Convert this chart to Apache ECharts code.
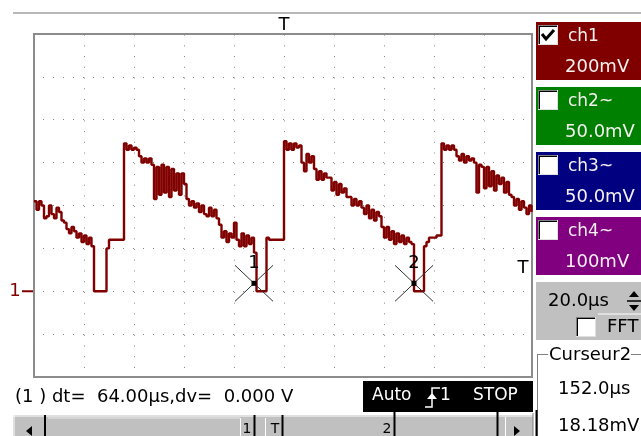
<!DOCTYPE html>
<html><head><meta charset="utf-8">
<script src="https://cdn.jsdelivr.net/npm/echarts@6/dist/echarts.min.js"></script>
<style>html,body{margin:0;padding:0;background:#fff;}#c{width:641px;height:436px;}</style>
</head><body><div id="c"></div>
<script>
// ---- data ----
const SAMPLE_US = 1;               // sample spacing, µs
const ch1Volts = [
  0.42,0.38,0.42,0.40,
  0.34,0.35,0.40,0.36,0.34,0.39,0.37,
  0.33,0.32,0.29,0.27,0.30,0.28,
  0.25,0.27,0.23,0.26,0.22,0.25,0.21,
  0.00,0.00,0.00,0.00,0.00,
  0.20,0.24,0.24,0.24,0.24,0.24,0.24,
  0.69,0.66,0.68,0.66,0.67,
  0.66,0.63,0.60,0.62,0.60,0.62,0.59,
  0.43,0.58,0.45,0.59,0.46,0.58,0.44,0.57,0.47,0.55,0.45,0.55,0.50,
  0.43,0.40,0.42,0.39,0.41,0.37,0.40,0.36,0.35,0.39,0.35,0.38,0.34,
  0.31,0.25,0.28,0.23,0.27,0.25,0.32,
  0.24,0.21,0.27,0.21,0.26,0.22,0.25,
  0.18,
  0.00,0.00,0.00,0.00,
  0.25,0.24,0.24,0.24,0.24,0.24,0.24,
  0.70,0.66,0.69,0.66,0.69,0.67,0.68,
  0.60,0.56,0.64,0.60,0.63,
  0.57,0.52,0.56,0.52,0.55,0.53,
  0.53,0.47,0.51,0.45,0.50,0.46,0.48,0.44,
  0.44,0.40,0.43,0.40,0.42,0.39,
  0.36,0.40,0.34,0.38,0.33,0.37,0.35,
  0.30,0.25,0.30,0.24,0.28,0.22,0.27,0.23,0.26,0.22,0.25,0.23,0.22,
  0.00,0.00,0.00,0.00,
  0.21,0.23,0.25,0.25,0.25,0.26,0.26,
  0.69,0.66,0.68,0.66,0.68,0.66,
  0.63,0.61,0.64,0.60,0.63,0.61,0.62,0.60,
  0.46,0.59,0.58,0.48,0.58,0.49,0.56,0.47,0.54,0.50,0.53,0.46,0.51,0.45,
  0.44,0.40,0.43,0.38,0.42,0.39,0.36,0.40,0.37
];
const cursorTimesUs = [88, 152];
const cursorVolts = [0.037, 0.037];
const cursorLabels = ['1', '2'];
const triggerTimeUs = 100;
const triggerLevelV = 0.108;
const groundV = 0;
const xMinUs = 0, xMaxUs = 199.2, xIntervalUs = 20;
const yMinV = -0.4, yMaxV = 1.2, yIntervalV = 0.2;

const channelNames = ['ch1', 'ch2~', 'ch3~', 'ch4~'];
const channelScales = ['200mV', '50.0mV', '50.0mV', '100mV'];
const channelColors = ['#800000', '#008000', '#000080', '#800080'];
const channelChecked = [true, false, false, false];
const measureText = '(1 ) dt=  64.00µs,dv=  0.000 V';
const timebaseText = '20.0µs';
const fftText = 'FFT';
const cursorTitle = 'Curseur2';
const cursorReadout = ['152.0µs', '18.18mV'];
const statusWords = ['Auto', '1', 'STOP'];
const scrollMarks = ['1', 'T', '2'];

// ---- chart ----
const F = '"DejaVu Sans"';
const chart = echarts.init(document.getElementById('c'), null, {renderer: 'canvas'});
const seriesData = ch1Volts.map((v, i) => [i * SAMPLE_US, v]);
seriesData.push([xMaxUs, ch1Volts[ch1Volts.length - 1]]);

chart.setOption({
  animation: false,
  backgroundColor: '#ffffff',
  grid: {left: 34, top: 34, width: 498, height: 343, show: true, borderColor: '#8c8c8c', borderWidth: 2, backgroundColor: 'transparent'},
  xAxis: {type: 'value', min: xMinUs, max: xMaxUs, interval: xIntervalUs,
    axisLine: {show: false}, axisTick: {show: false}, axisLabel: {show: false},
    splitLine: {show: true, lineStyle: {color: '#858585', width: 1, type: [1, 9.72], dashOffset: 10.1}}},
  yAxis: {type: 'value', min: yMinV, max: yMaxV, interval: yIntervalV,
    axisLine: {show: false}, axisTick: {show: false}, axisLabel: {show: false},
    splitLine: {show: true, lineStyle: {color: '#858585', width: 1, type: [1, 9], dashOffset: 1}}},
  series: [
    {type: 'line', data: seriesData, step: 'end', showSymbol: false, symbol: 'none',
      lineStyle: {color: '#800000', width: 2.4}, clip: true, z: 3},
    {type: 'custom', coordinateSystem: 'cartesian2d', clip: false, z: 5,
      data: cursorTimesUs.map((t, i) => [t, cursorVolts[i]]),
      encode: {x: 0, y: 1},
      renderItem: function (params, api) {
        const p = api.coord([api.value(0), api.value(1)]);
        const a = 19, b = 18;
        return {type: 'group', children: [
          {type: 'line', shape: {x1: p[0] - a, y1: p[1] - b, x2: p[0] + a, y2: p[1] + b}, style: {stroke: '#303030', lineWidth: 1}},
          {type: 'line', shape: {x1: p[0] + a, y1: p[1] - b, x2: p[0] - a, y2: p[1] + b}, style: {stroke: '#303030', lineWidth: 1}},
          {type: 'rect', shape: {x: p[0] - 2.5, y: p[1] - 2.5, width: 5, height: 5}, style: {fill: '#000'}},
          {type: 'text', style: {text: cursorLabels[params.dataIndex], x: p[0], y: p[1] - 20, align: 'center', verticalAlign: 'middle', font: '18px ' + F, fill: '#000'}}
        ]};
      }}
  ]
});

// positions derived from the axes
const gndY = chart.convertToPixel({yAxisIndex: 0}, groundV);
const trigX = chart.convertToPixel({xAxisIndex: 0}, triggerTimeUs);
const trigY = chart.convertToPixel({yAxisIndex: 0}, triggerLevelV);

function txt(text, x, y, size, fill, align, extra) {
  return Object.assign({type: 'text', z: 20, style: {text: text, x: x, y: y, font: size + 'px ' + F, fill: fill || '#000',
    align: align || 'left', verticalAlign: 'middle'}}, extra || {});
}
function rect(x, y, w, h, fill, z) { return {type: 'rect', z: z || 10, shape: {x: x, y: y, width: w, height: h}, style: {fill: fill}}; }
function ln(x1, y1, x2, y2, stroke, w, z) { return {type: 'line', z: z || 12, shape: {x1: x1, y1: y1, x2: x2, y2: y2}, style: {stroke: stroke, lineWidth: w || 1}}; }
function checkbox(x, y, s, checked) {
  const els = [
    rect(x, y, s, s, '#ffffff', 14),
    ln(x, y + 0.5, x + s, y + 0.5, '#808080', 1, 15), ln(x + 0.5, y, x + 0.5, y + s, '#808080', 1, 15),
    ln(x + 1, y + 1.5, x + s - 1, y + 1.5, '#000', 1, 15), ln(x + 1.5, y + 1, x + 1.5, y + s - 1, '#000', 1, 15),
    ln(x, y + s - 0.5, x + s, y + s - 0.5, '#e0e0e0', 1, 15), ln(x + s - 0.5, y, x + s - 0.5, y + s, '#e0e0e0', 1, 15)
  ];
  if (checked) {
    els.push({type: 'polyline', z: 16, shape: {points: [[x + 4, y + 9], [x + 8, y + 14], [x + 16, y + 5]]}, style: {stroke: '#000', lineWidth: 3, fill: null}});
  }
  return els;
}

const g = [];
// top separator line
g.push(rect(13, 12, 628, 2, '#b8b8b8', 10));
// trigger markers
g.push(txt('T', trigX, 25, 18, '#000', 'center'));
g.push(txt('T', 523, trigY, 18, '#000', 'center'));
// ground marker
g.push(txt('1', 15, gndY, 18, '#800000', 'center'));
g.push(ln(22, gndY, 33, gndY, '#800000', 2));

// channel boxes
const boxTops = [22, 87, 152, 217];
for (let i = 0; i < 4; i++) {
  const t = boxTops[i];
  g.push(rect(536, t, 105, 58, channelColors[i], 10));
  checkbox(538, t + 3, 20, channelChecked[i]).forEach(e => g.push(e));
  g.push(txt(channelNames[i], 568, t + 15, 17, '#f6f0f0'));
  g.push(txt(channelScales[i], 565, t + 45, 18, '#f6f0f0'));
}
// timebase panel
g.push(rect(536, 282, 105, 58, '#c0c0c0', 10));
g.push(txt(timebaseText, 548, 301, 18, '#000'));
g.push({type: 'polygon', z: 15, shape: {points: [[629, 297], [634, 291], [639, 297]]}, style: {fill: '#000'}});
g.push(ln(627, 301, 641, 301, '#000', 1.5, 15));
g.push({type: 'polygon', z: 15, shape: {points: [[629, 305], [634, 311], [639, 305]]}, style: {fill: '#000'}});
g.push(ln(598, 314, 641, 314, '#ffffff', 1, 13));
checkbox(576, 317, 20, false).forEach(e => g.push(e));
g.push(txt(fftText, 607, 327, 18, '#000'));
// cursor group box
g.push(ln(537.5, 354, 537.5, 436, '#808080', 1, 12));
g.push(ln(538.5, 355, 538.5, 436, '#ffffff', 1, 12));
g.push(ln(537, 354.5, 548, 354.5, '#808080', 1, 12));
g.push(txt(cursorTitle, 549, 355, 18, '#000'));
g.push(ln(631, 354.5, 641, 354.5, '#808080', 1, 12));
g.push(txt(cursorReadout[0], 558, 389, 18, '#000'));
g.push(txt(cursorReadout[1], 558, 426, 18, '#000'));
g.push(ln(536.5, 410, 536.5, 436, '#000', 2, 13));

// measurement text
g.push(txt(measureText, 15, 397, 18, '#000'));
// status box
g.push(rect(363, 381, 170, 31, '#000', 10));
g.push(txt(statusWords[0], 372, 396, 17, '#fff'));
g.push({type: 'polyline', z: 15, shape: {points: [[425, 407], [432, 407], [432, 388], [440, 388]]}, style: {stroke: '#fff', lineWidth: 1.5, fill: null}});
g.push({type: 'polygon', z: 15, shape: {points: [[427, 399], [432, 393], [437, 399]]}, style: {fill: '#fff'}});
g.push(txt(statusWords[1], 440, 396, 17, '#fff'));
g.push(txt(statusWords[2], 473, 396, 17, '#fff'));

// scrollbar
g.push(rect(13, 415, 520, 21, '#c0c0c0', 10));
g.push(ln(13, 416, 533, 416, '#ffffff', 1, 11));
g.push(ln(14, 415, 14, 436, '#ffffff', 1, 11));
g.push({type: 'polygon', z: 15, shape: {points: [[32, 426], [26, 431], [32, 436]]}, style: {fill: '#000'}});
g.push(ln(45, 415, 45, 436, '#000', 2, 15));
g.push(ln(48, 418, 240, 418, '#e8e8e8', 1, 11));
g.push(ln(240.5, 418, 240.5, 436, '#ffffff', 1, 11));
g.push(ln(265.5, 418, 265.5, 436, '#ffffff', 1, 11));
g.push(txt(scrollMarks[0], 247, 429, 14, '#000', 'center'));
g.push(ln(254.5, 415, 254.5, 436, '#000', 2, 15));
g.push(txt(scrollMarks[1], 275, 429, 14, '#000', 'center'));
g.push(ln(282.5, 415, 282.5, 436, '#000', 2, 15));
g.push(txt(scrollMarks[2], 387, 429, 14, '#000', 'center'));
g.push(ln(394.5, 411, 394.5, 436, '#000', 2, 15));
g.push(ln(497.5, 411, 497.5, 436, '#000', 2, 15));
g.push(ln(505.5, 417, 505.5, 436, '#ffffff', 1, 11));
g.push({type: 'polygon', z: 15, shape: {points: [[514, 426], [520, 431], [514, 436]]}, style: {fill: '#000'}});
g.push(ln(533, 413, 533, 436, '#808080', 1, 11));

chart.setOption({graphic: {elements: g}});
</script>
</body></html>
